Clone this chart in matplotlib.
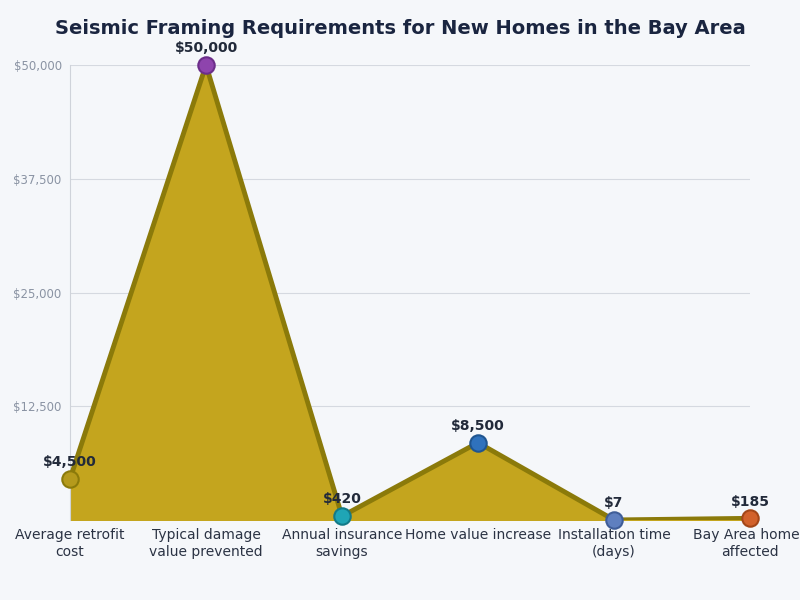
import matplotlib
matplotlib.use('Agg')
import matplotlib.pyplot as plt

matplotlib.rcParams['font.family'] = 'DejaVu Sans'

categories = ['Average retrofit\ncost', 'Typical damage\nvalue prevented', 'Annual insurance\nsavings',
              'Home value increase', 'Installation time\n(days)', 'Bay Area homes\naffected']
values = [4500, 50000, 420, 8500, 7, 185]
labels = ['$4,500', '$50,000', '$420', '$8,500', '$7', '$185']
marker_colors = ['#b59a1c', '#8e44ad', '#1fa5b5', '#2f72bd', '#5f7fbf', '#d2612b']
edge_colors = ['#8b7a0a', '#6c2e8a', '#137a88', '#1f5590', '#3f5d98', '#a34618']
yticks = [12500, 25000, 37500, 50000]

bg = '#f5f7fa'
fig = plt.figure(figsize=(8, 6), dpi=100, facecolor=bg)
ax = fig.add_axes([0.0875, 0.1333, 0.85, 0.7584], facecolor=bg)

x = list(range(len(values)))
ax.fill_between(x, values, 0, color='#c4a51e', zorder=2)
ax.plot(x, values, color='#8b7a0a', linewidth=3.5, zorder=3)
for xi, v, c, ec, lab in zip(x, values, marker_colors, edge_colors, labels):
    ax.scatter(xi, v, s=140, color=c, edgecolor=ec, linewidth=1.5, zorder=4, clip_on=False)
    ax.annotate(lab, (xi, v), xytext=(0, 7), textcoords='offset points', ha='center',
                va='bottom', fontsize=10, fontweight='bold', color='#222a3a')

ax.set_xlim(0, len(values) - 1)
ax.set_ylim(0, 50000)
ax.set_xticks(x)
ax.set_xticklabels(categories, fontsize=10, color='#2b3344')
ax.set_yticks(yticks)
ax.set_yticklabels([f'${t:,}' for t in yticks], fontsize=8.5, color='#8a93a3')
ax.tick_params(axis='both', length=0, pad=6)
ax.grid(axis='y', color='#d5d9e0', linewidth=0.8, zorder=0)
for s in ['top', 'right', 'bottom']:
    ax.spines[s].set_visible(False)
ax.spines['left'].set_color('#cfd3da')

fig.suptitle('Seismic Framing Requirements for New Homes in the Bay Area', fontsize=14,
             fontweight='bold', color='#1a2540', y=0.968)

fig.savefig('out.png', dpi=100, facecolor=bg)
